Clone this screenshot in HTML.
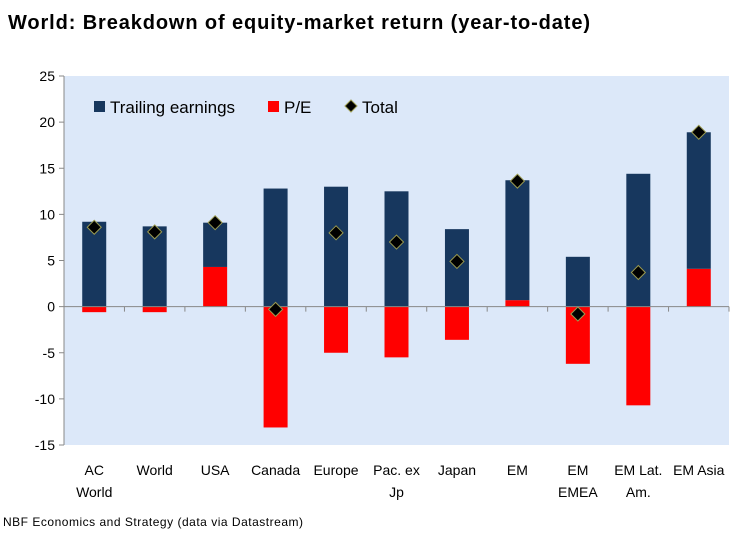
<!DOCTYPE html>
<html><head><meta charset="utf-8"><style>
body{margin:0;background:#fff;width:738px;height:532px;overflow:hidden;font-family:"Liberation Sans",sans-serif}
</style></head><body>
<svg width="738" height="532" xmlns="http://www.w3.org/2000/svg">
<text x="8" y="29" font-size="20" font-weight="bold" fill="#000" textLength="582">World: Breakdown of equity-market return (year-to-date)</text>
<rect x="64" y="76" width="665" height="369" fill="#dce8f9"/>
<g id="g"></g>
<text x="3" y="526" font-size="12" fill="#000" textLength="300">NBF Economics and Strategy (data via Datastream)</text>
</svg>
<script>
const categories=[["AC","World"],["World"],["USA"],["Canada"],["Europe"],["Pac. ex","Jp"],["Japan"],["EM"],["EM","EMEA"],["EM Lat.","Am."],["EM Asia"]];
const earnings=[9.2,8.7,4.8,12.8,13.0,12.5,8.4,13.0,5.4,14.4,14.8];
const pe=[-0.6,-0.6,4.3,-13.1,-5.0,-5.5,-3.6,0.7,-6.2,-10.7,4.1];
const total=[8.6,8.1,9.1,-0.3,8.0,7.0,4.9,13.6,-0.8,3.7,18.9];
const yTicks=[25,20,15,10,5,0,-5,-10,-15];
const NS="http://www.w3.org/2000/svg",g=document.getElementById('g');
const L=64,R=729,T=76,B=445,ymin=-15,ymax=25;
const y=v=>T+(ymax-v)/(ymax-ymin)*(B-T);
const step=(R-L)/categories.length;
const xc=i=>L+step*(i+0.5);
function el(t,a){const e=document.createElementNS(NS,t);for(const k in a)e.setAttribute(k,a[k]);g.appendChild(e);return e;}
let ax=el('line',{x1:L,y1:T,x2:L,y2:B,stroke:'#888'});


yTicks.forEach(v=>{
 const tk=el('line',{x1:L-5,y1:y(v),x2:L,y2:y(v),stroke:'#888'});
 
 
 const t=el('text',{x:L-9,y:y(v)+5,'text-anchor':'end','font-size':14,fill:'#000'});t.textContent=v;
 
 
});
const bw=24;
function bar(i,a,b,c,name){const top=y(Math.max(a,b)),bot=y(Math.min(a,b));
 const r=el('rect',{x:xc(i)-bw/2,y:top,width:bw,height:bot-top,fill:c});
 
 }
categories.forEach((c,i)=>{
 const e=earnings[i],p=pe[i];
 if(p>=0){bar(i,0,p,'#ff0000','pe-bar');bar(i,p,p+e,'#17375e','earnings-bar');}
 else{bar(i,0,e,'#17375e','earnings-bar');bar(i,0,p,'#ff0000','pe-bar');}
});
let x0=el('line',{x1:L,y1:y(0),x2:R,y2:y(0),stroke:'#888'});


for(let i=1;i<=categories.length;i++){const tk=el('line',{x1:L+step*i,y1:y(0),x2:L+step*i,y2:y(0)+5,stroke:'#888'});
 
 }
categories.forEach((c,i)=>{
 c.forEach((s,j)=>{const t=el('text',{x:xc(i),y:475+j*22,'text-anchor':'middle','font-size':14,fill:'#000'});t.textContent=s;
 
 });
 const cx=xc(i),cy=y(total[i]);
 const d=el('polygon',{points:`${cx},${cy-7} ${cx+7},${cy} ${cx},${cy+7} ${cx-7},${cy}`,fill:'#000',stroke:'#9a9a50','stroke-width':1});
 
 
});
const lg=[[94,'rect','#17375e','Trailing earnings'],[268,'rect','#ff0000','P/E'],[346,'dia','#000','Total']];
lg.forEach(([x,k,c,s])=>{
 let m;
 if(k==='rect')m=el('rect',{x:x,y:101,width:11,height:11,fill:c});
 else m=el('polygon',{points:`${x+5},${100} ${x+11},${106} ${x+5},${112} ${x-1},${106}`,fill:'#000',stroke:'#9a9a50'});
 
 
 const t=el('text',{x:x+16,y:113,'font-size':17,fill:'#000'});t.textContent=s;
 
 
});
</script>
</body></html>
